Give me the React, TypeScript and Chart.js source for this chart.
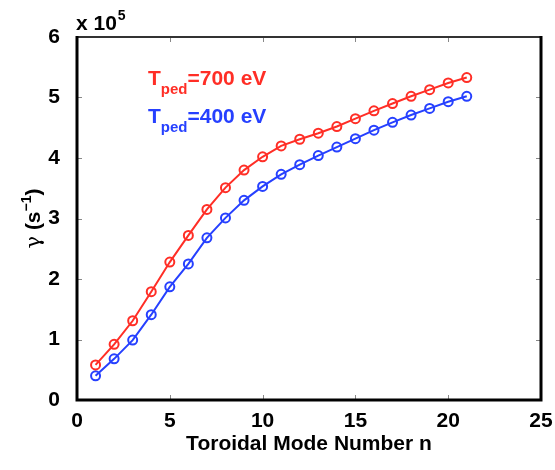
import React, { useEffect, useRef } from "react";
import { Chart, registerables } from "chart.js";

Chart.register(...registerables);

const modeNumbers = [1, 2, 3, 4, 5, 6, 7, 8, 9, 10, 11, 12, 13, 14, 15, 16, 17, 18, 19, 20, 21];
const gamma700 = [0.58, 0.92, 1.31, 1.79, 2.28, 2.72, 3.15, 3.51, 3.8, 4.02, 4.2, 4.31, 4.41, 4.52, 4.65, 4.78, 4.9, 5.02, 5.13, 5.24, 5.33];
const gamma400 = [0.4, 0.68, 0.99, 1.41, 1.87, 2.25, 2.68, 3.01, 3.3, 3.53, 3.73, 3.89, 4.04, 4.18, 4.32, 4.46, 4.59, 4.71, 4.82, 4.93, 5.02];
const xTicks = [0, 5, 10, 15, 20, 25];
const yTicks = [0, 1, 2, 3, 4, 5, 6];
const seriesLabels = ["700 eV", "400 eV"];

const RED = "#ff2e26";
const BLUE = "#2640ff";
const FONT = "'Liberation Sans', Arial, sans-serif";

const decorPlugin = {
  id: "decor",
  afterDraw(chart: any) {
    const { ctx, chartArea } = chart;
    const { left, right, top, bottom } = chartArea;
    const xs = chart.scales.x;
    const ys = chart.scales.y;
    ctx.save();
    // inward tick marks on all four sides
    ctx.strokeStyle = "#888";
    ctx.lineWidth = 1;
    const tl = 5;
    xTicks.forEach((v) => {
      const px = Math.round(xs.getPixelForValue(v)) + 0.5;
      ctx.beginPath();
      ctx.moveTo(px, bottom);
      ctx.lineTo(px, bottom - tl);
      ctx.moveTo(px, top);
      ctx.lineTo(px, top + tl);
      ctx.stroke();
    });
    yTicks.forEach((v) => {
      const py = Math.round(ys.getPixelForValue(v)) + 0.5;
      ctx.beginPath();
      ctx.moveTo(left, py);
      ctx.lineTo(left + tl, py);
      ctx.moveTo(right, py);
      ctx.lineTo(right - tl, py);
      ctx.stroke();
    });
    // frame
    ctx.strokeStyle = "#333";
    ctx.lineWidth = 2;
    ctx.beginPath();
    ctx.moveTo(left, top);
    ctx.lineTo(right, top);
    ctx.stroke();
    ctx.strokeStyle = "#000";
    ctx.lineWidth = 3;
    ctx.beginPath();
    ctx.moveTo(left, top - 1);
    ctx.lineTo(left, bottom);
    ctx.lineTo(right, bottom);
    ctx.lineTo(right, top - 1);
    ctx.stroke();

    // x 10^5
    ctx.fillStyle = "#000";
    ctx.textBaseline = "alphabetic";
    ctx.textAlign = "left";
    ctx.font = `bold 21px ${FONT}`;
    ctx.fillText("x 10", left - 1, 30);
    const w10 = ctx.measureText("x 10").width;
    ctx.font = `bold 14px ${FONT}`;
    ctx.fillText("5", left - 1 + w10 + 1, 20);

    // x-axis title
    ctx.font = `bold 21px ${FONT}`;
    ctx.textAlign = "center";
    ctx.fillText("Toroidal Mode Number n", (left + right) / 2, 450);

    // y-axis title (rotated)
    ctx.save();
    ctx.translate(40, (top + bottom) / 2);
    ctx.rotate(-Math.PI / 2);
    ctx.textAlign = "left";
    const parts: [string, string, number][] = [
      ["γ", `21px 'DejaVu Serif', serif`, 0],
      [" (s", `bold 21px ${FONT}`, 0],
      ["−1", `bold 14px ${FONT}`, -9],
      [")", `bold 21px ${FONT}`, 0],
    ];
    let total = 0;
    parts.forEach(([t, f]) => {
      ctx.font = f;
      total += ctx.measureText(t).width;
    });
    let cx = -total / 2;
    parts.forEach(([t, f, dy]) => {
      ctx.font = f;
      ctx.fillText(t, cx, dy);
      cx += ctx.measureText(t).width;
    });
    ctx.restore();

    // in-plot annotations
    const drawLabel = (color: string, value: string, x: number, y: number) => {
      ctx.fillStyle = color;
      ctx.textAlign = "left";
      ctx.font = `bold 21px ${FONT}`;
      ctx.fillText("T", x, y);
      let px = x + ctx.measureText("T").width;
      ctx.font = `bold 15px ${FONT}`;
      ctx.fillText("ped", px, y + 9);
      px += ctx.measureText("ped").width;
      ctx.font = `bold 21px ${FONT}`;
      ctx.fillText("=" + value, px, y);
    };
    drawLabel(RED, seriesLabels[0], 148, 85);
    drawLabel(BLUE, seriesLabels[1], 148, 123);
    ctx.restore();
  },
};

export default function App() {
  const ref = useRef<HTMLCanvasElement | null>(null);
  useEffect(() => {
    if (!ref.current) return;
    const mk = (data: number[], color: string, label: string) => ({
      label,
      data: modeNumbers.map((n, i) => ({ x: n, y: data[i] })),
      borderColor: color,
      backgroundColor: "rgba(0,0,0,0)",
      borderWidth: 2,
      pointRadius: 4.5,
      pointBorderWidth: 2,
      pointBorderColor: color,
      pointBackgroundColor: "rgba(0,0,0,0)",
      tension: 0,
    });
    const chart = new Chart(ref.current, {
      type: "line",
      data: {
        datasets: [mk(gamma700, RED, seriesLabels[0]), mk(gamma400, BLUE, seriesLabels[1])],
      },
      options: {
        responsive: false,
        animation: false,
        layout: { padding: { top: 37, right: 14, left: 0, bottom: 0 } },
        plugins: { legend: { display: false }, tooltip: { enabled: false }, title: { display: false } },
        scales: {
          x: {
            type: "linear",
            min: 0,
            max: 25,
            grid: { display: false },
            border: { display: false },
            ticks: {
              stepSize: 5,
              padding: 1,
              color: "#000",
              maxRotation: 0,
              font: { family: FONT, size: 21, weight: "bold" },
            },
            afterFit: (s: any) => {
              s.height = 70;
            },
          },
          y: {
            type: "linear",
            min: 0,
            max: 6,
            grid: { display: false },
            border: { display: false },
            ticks: {
              stepSize: 1,
              padding: 9,
              color: "#000",
              font: { family: FONT, size: 21, weight: "bold" },
            },
            afterFit: (s: any) => {
              s.width = 77;
            },
          },
        },
      },
      plugins: [decorPlugin],
    } as any);
    return () => chart.destroy();
  }, []);
  return (
    <div style={{ position: "fixed", left: 0, top: 0, width: 555, height: 470, background: "#fff" }}>
      <canvas ref={ref} width={555} height={470} />
    </div>
  );
}
